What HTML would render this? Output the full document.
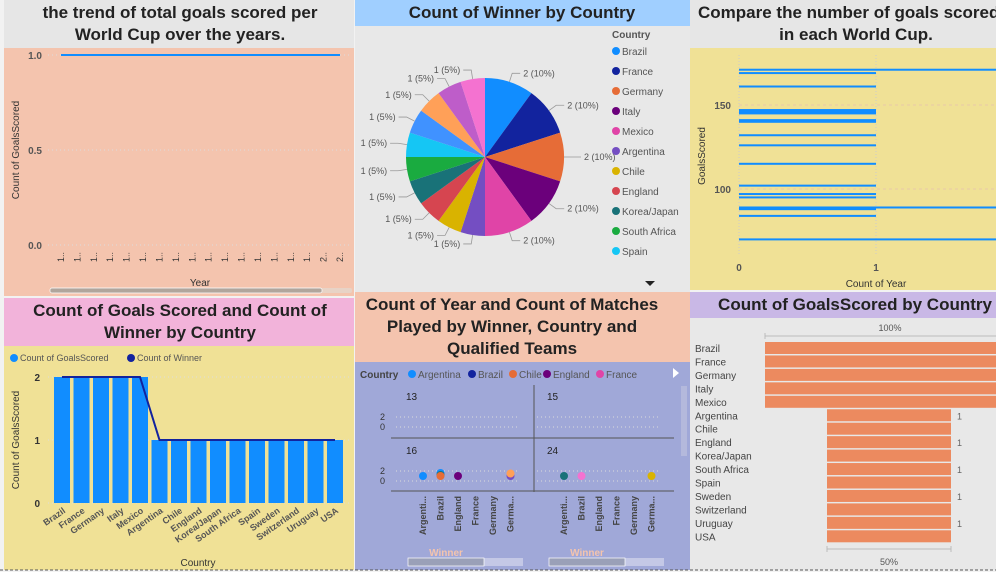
<!DOCTYPE html>
<html><head><meta charset="utf-8">
<style>
body{margin:0;width:996px;height:572px;overflow:hidden;background:#fff;font-family:"Liberation Sans",sans-serif}
svg{position:absolute;left:0;top:0}
text{font-family:"Liberation Sans",sans-serif}
.t{font-weight:bold;font-size:17px;fill:#222;text-anchor:middle}
.ax{font-size:10px;fill:#555}
</style></head><body>
<svg id="s" width="996" height="572">
<!-- backgrounds -->
<rect x="0" y="0" width="996" height="572" fill="#f2f2f2"/>
<rect x="4" y="0" width="350" height="48" fill="#e6e6e6"/>
<rect x="4" y="48" width="350" height="248" fill="#f4c4ae"/>
<rect x="355" y="0" width="335" height="26" fill="#a0cfff"/>
<rect x="355" y="26" width="335" height="266" fill="#e8e8e8"/>
<rect x="690" y="0" width="306" height="48" fill="#e6e6e6"/>
<rect x="690" y="48" width="306" height="242" fill="#f0e196"/>
<rect x="4" y="298" width="350" height="48" fill="#f2b3da"/>
<rect x="4" y="346" width="350" height="224" fill="#f0e196"/>
<rect x="355" y="292" width="335" height="70" fill="#f4c4ae"/>
<rect x="355" y="362" width="335" height="208" fill="#a0a8d8"/>
<rect x="690" y="292" width="306" height="26" fill="#c9b8e6"/>
<rect x="690" y="318" width="306" height="252" fill="#e8e8e8"/>
<line x1="0" y1="570" x2="996" y2="570" stroke="#555" stroke-dasharray="3,2"/>

<!-- titles -->
<text class="t" x="180" y="18">the trend of total goals scored per</text>
<text class="t" x="180" y="40">World Cup over the years.</text>
<text class="t" x="522" y="18">Count of Winner by Country</text>
<text class="t" x="698" y="18" style="text-anchor:start">Compare the number of goals scored</text>
<text class="t" x="856" y="40">in each World Cup.</text>
<text class="t" x="180" y="316">Count of Goals Scored and Count of</text>
<text class="t" x="180" y="338">Winner by Country</text>
<text class="t" x="512" y="310">Count of Year and Count of Matches</text>
<text class="t" x="512" y="332">Played by Winner, Country and</text>
<text class="t" x="512" y="354">Qualified Teams</text>
<text class="t" x="855" y="310">Count of GoalsScored by Country</text>
<g id="g"></g>
</svg>
<script>
// ---- data ----
const trendYears=['1..','1..','1..','1..','1..','1..','1..','1..','1..','1..','1..','1..','1..','1..','1..','1..','2..','2..'];
const trendValues=[1,1,1,1,1,1,1,1,1,1,1,1,1,1,1,1,1,1];
const trendTicks=[0,0.5,1];
const pieCountries=['Brazil','France','Germany','Italy','Mexico','Argentina','Chile','England','Korea/Japan','South Africa','Spain','Sweden','Switzerland','Uruguay','USA'];
const pieValues=[2,2,2,2,2,1,1,1,1,1,1,1,1,1,1];
const pieColors=['#118dff','#12239e','#e66c37','#6b007b','#e044a7','#744ec2','#d9b300','#d64550','#197278','#1aab40','#15c6f4','#4092ff','#ffa058','#be5dc9','#f472d0'];
const goalsScored=[171,169,161,147,146,145,141,140,132,126,115,102,97,95,89,88,84,70];
const goalsCount=[2,1,1,1,1,1,1,1,1,1,1,1,1,1,2,1,1,2];
const goalsTicks=[100,150];
const comboCountries=['Brazil','France','Germany','Italy','Mexico','Argentina','Chile','England','Korea/Japan','South Africa','Spain','Sweden','Switzerland','Uruguay','USA'];
const comboGoals=[2,2,2,2,2,1,1,1,1,1,1,1,1,1,1];
const comboWinner=[2,2,2,2,2,1,1,1,1,1,1,1,1,1,1];
const comboTicks=[0,1,2];
const multWinners=['Argenti...','Brazil','England','France','Germany','Germa...'];
const multPanels=['13','15','16','24'];
const multPoints=[[2,0,1,'#118dff'],[2,1,1.6,'#118dff'],[2,1,1.2,'#197278'],[2,1,1,'#e66c37'],[2,2,1,'#6b007b'],[2,5,1,'#744ec2'],[2,5,1.5,'#ffa058'],[3,0,1,'#197278'],[3,1,1,'#f472d0'],[3,5,1,'#d9b300']];
const funnelCountries=['Brazil','France','Germany','Italy','Mexico','Argentina','Chile','England','Korea/Japan','South Africa','Spain','Sweden','Switzerland','Uruguay','USA'];
const funnelValues=[2,2,2,2,2,1,1,1,1,1,1,1,1,1,1];
const funnelShowLabel=[0,0,0,0,0,1,0,1,0,1,0,1,0,1,0];

const NS='http://www.w3.org/2000/svg';
const G=document.getElementById('g');
function mk(tag,a,txt){const e=document.createElementNS(NS,tag);for(const k in a)e.setAttribute(k,a[k]);if(txt!==undefined)e.textContent=txt;G.appendChild(e);return e;}

// ---- trend line ----
const tY=v=>245-v*190, tX=i=>61+i*(279/(trendYears.length-1));
trendTicks.forEach(t=>{
 let e=mk('text',{x:42,y:tY(t)+4,'text-anchor':'end','font-size':10,'font-weight':'bold',fill:'#555'},t.toFixed(1));
 
 e=mk('line',{x1:48,x2:352,y1:tY(t),y2:tY(t),stroke:'#ddd','stroke-dasharray':'1,3'});
 
});
{let e=mk('polyline',{points:trendValues.map((v,i)=>tX(i)+','+tY(v)).join(' '),fill:'none',stroke:'#118dff','stroke-width':2});
}
trendYears.forEach((y,i)=>{let e=mk('text',{transform:`translate(${tX(i)+3},252) rotate(-90)`,'text-anchor':'end','font-size':9,fill:'#333'},y);
});
{let e=mk('text',{x:200,y:286,'text-anchor':'middle','font-size':10,fill:'#333'},'Year');
e=mk('text',{transform:'translate(19,150) rotate(-90)','text-anchor':'middle','font-size':10,fill:'#333'},'Count of GoalsScored');
e=mk('rect',{x:50,y:288,width:302,height:5,rx:2,fill:'#e8d3c6'});
e=mk('rect',{x:50,y:288,width:272,height:5,rx:2,fill:'#b0a59c',stroke:'#fff','stroke-width':0.7});}

// ---- pie ----
{const cx=485,cy=157,r=79,tot=pieValues.reduce((a,b)=>a+b,0);let a0=0;
pieValues.forEach((v,i)=>{const a1=a0+v/tot*2*Math.PI;
 const p=(a)=>[cx+r*Math.sin(a),cy-r*Math.cos(a)];const [x0,y0]=p(a0),[x1,y1]=p(a1);
 let e=mk('path',{d:`M${cx},${cy}L${x0},${y0}A${r},${r} 0 ${a1-a0>Math.PI?1:0} 1 ${x1},${y1}Z`,fill:pieColors[i]});
 
 const m=(a0+a1)/2,s=Math.sin(m),c=Math.cos(m);const ex=cx+(r+9)*s,ey=cy-(r+9)*c,hx=ex+(s>0?8:-8);
 e=mk('polyline',{points:`${cx+r*s},${cy-r*c} ${ex},${ey} ${hx},${ey}`,fill:'none',stroke:'#999','stroke-width':0.8});
 
 e=mk('text',{x:hx+(s>0?3:-3),y:ey+3,'text-anchor':s>0?'start':'end','font-size':9,fill:'#555'},`${v} (${Math.round(v/tot*100)}%)`);
 
 a0=a1;});
let e=mk('text',{x:612,y:38,'font-size':10,'font-weight':'bold',fill:'#555'},'Country');
pieCountries.slice(0,11).forEach((c,i)=>{let e=mk('circle',{cx:616,cy:51+i*20,r:4,fill:pieColors[i]});
 e=mk('text',{x:622,y:55+i*20,'font-size':10,fill:'#555'},c);});
e=mk('path',{d:'M645,281L655,281L650,286Z',fill:'#222'});}

// ---- goals per world cup ----
{const gy=v=>105-(v-150)*1.68,gx=c=>739+c*137;
[gx(0),gx(1)].forEach(x=>{let e=mk('line',{x1:x,x2:x,y1:55,y2:255,stroke:'#ccc','stroke-dasharray':'1,2'});});
goalsTicks.forEach(t=>{let e=mk('text',{x:731,y:gy(t)+4,'text-anchor':'end','font-size':10,'font-weight':'bold',fill:'#555'},t);
 e=mk('line',{x1:739,x2:996,y1:gy(t),y2:gy(t),stroke:'#e8c9a8','stroke-dasharray':'3,3'});});
goalsScored.forEach((v,i)=>{let e=mk('rect',{x:gx(0),y:gy(v)-1,width:gx(goalsCount[i])-gx(0),height:2,fill:'#118dff'});});
['0','1'].forEach((t,i)=>{let e=mk('text',{x:gx(i),y:271,'text-anchor':'middle','font-size':10,'font-weight':'bold',fill:'#555'},t);});
let e=mk('text',{x:876,y:287,'text-anchor':'middle','font-size':10,fill:'#333'},'Count of Year');
e=mk('text',{transform:'translate(705,156) rotate(-90)','text-anchor':'middle','font-size':10,fill:'#333'},'GoalsScored');}

// ---- combo ----
{const cy=v=>503-v*63,cx=i=>62+i*19.5;
comboTicks.forEach(t=>{let e=mk('text',{x:40,y:cy(t)+4,'text-anchor':'end','font-size':10,'font-weight':'bold',fill:'#333'},t);
 e=mk('line',{x1:48,x2:350,y1:cy(t),y2:cy(t),stroke:'#ddd','stroke-dasharray':'1,3'});});
comboGoals.forEach((v,i)=>{let e=mk('rect',{x:cx(i)-8,y:cy(v),width:16,height:cy(0)-cy(v),fill:'#118dff'});
 e=mk('text',{transform:`translate(${cx(i)+4},512) rotate(-35)`,'text-anchor':'end','font-size':9,'font-weight':'bold',fill:'#555'},comboCountries[i]);});
let e=mk('polyline',{points:comboWinner.map((v,i)=>cx(i)+','+cy(v)).join(' '),fill:'none',stroke:'#12239e','stroke-width':2});
e=mk('circle',{cx:14,cy:358,r:4,fill:'#118dff'});
e=mk('text',{x:20,y:361,'font-size':9,fill:'#555'},'Count of GoalsScored');
e=mk('circle',{cx:131,cy:358,r:4,fill:'#12239e'});
e=mk('text',{x:137,y:361,'font-size':9,fill:'#555'},'Count of Winner');
e=mk('text',{x:198,y:566,'text-anchor':'middle','font-size':10,fill:'#333'},'Country');
e=mk('text',{transform:'translate(19,440) rotate(-90)','text-anchor':'middle','font-size':10,fill:'#333'},'Count of GoalsScored');}

// ---- small multiples ----
{let e=mk('text',{x:360,y:378,'font-size':10,'font-weight':'bold',fill:'#444'},'Country');
const lg=[['Argentina','#118dff',412],['Brazil','#12239e',472],['Chile','#e66c37',513],['England','#6b007b',547],['France','#e044a7',600]];
lg.forEach(l=>{let e=mk('circle',{cx:l[2],cy:374,r:4,fill:l[1]});
 e=mk('text',{x:l[2]+6,y:378,'font-size':10,fill:'#555'},l[0]);});
e=mk('path',{d:'M673,368L679,373L673,378Z',fill:'#fff'});
e=mk('rect',{x:681,y:386,width:6,height:70,fill:'#b4b9dc'});
mk('line',{x1:534,x2:534,y1:385,y2:492,stroke:'#555'});mk('line',{x1:391,x2:674,y1:438,y2:438,stroke:'#555'});mk('line',{x1:391,x2:674,y1:491,y2:491,stroke:'#555'});
const ox=[406,547],oy=[417,471],step=17.5;
multPanels.forEach((p,k)=>{const px=ox[k%2],py=oy[Math.floor(k/2)];
 let e=mk('text',{x:px,y:py-17,'font-size':10,fill:'#222'},p);
 [2,0].forEach((t,j)=>{mk('line',{x1:px-10,x2:px+112,y1:py+j*10,y2:py+j*10,stroke:'#ddd','stroke-dasharray':'1,3'});});});
[417,471].forEach(py=>{['2','0'].forEach((t,j)=>{let e=mk('text',{x:385,y:py+3+j*10,'text-anchor':'end','font-size':9,fill:'#333'},t);});});
multPoints.forEach(p=>{const px=ox[p[0]%2]+17+p[1]*step,py=oy[Math.floor(p[0]/2)]+10-p[2]*5;
 let e=mk('circle',{cx:px,cy:py,r:4,fill:p[3]});});
[0,1].forEach(k=>{multWinners.forEach((w,i)=>{let e=mk('text',{transform:`translate(${ox[k]+20+i*step},496) rotate(-90)`,'text-anchor':'end','font-size':9,'font-weight':'bold',fill:'#444'},w);});
 let e=mk('text',{x:ox[k]+40,y:556,'text-anchor':'middle','font-size':10,'font-weight':'bold',fill:'#f4c4ae'},'Winner');
 e=mk('rect',{x:ox[k]+2,y:558,width:115,height:8,fill:'#c4c8e6'});
 e=mk('rect',{x:ox[k]+2,y:558,width:76,height:8,fill:'#9aa0b8',stroke:'#fff','stroke-width':0.7});});}

// ---- funnel ----
{const mid=889,fw=v=>v*124,fy=i=>342+i*13.45;
let e=mk('text',{x:890,y:331,'text-anchor':'middle','font-size':9,fill:'#555'},'100%');
mk('line',{x1:765,x2:996,y1:336,y2:336,stroke:'#bbb'});mk('line',{x1:765,x2:765,y1:333,y2:339,stroke:'#bbb'});
funnelValues.forEach((v,i)=>{let e=mk('rect',{x:mid-fw(v)/2,y:fy(i),width:fw(v),height:12,fill:'#ec8a5f'});
 e=mk('text',{x:695,y:fy(i)+10,'font-size':10,fill:'#444'},funnelCountries[i]);
 if(funnelShowLabel[i]){e=mk('text',{x:mid+fw(v)/2+6,y:fy(i)+10,'font-size':9,fill:'#666'},v>1?v:'1');}});
mk('line',{x1:827,x2:951,y1:549,y2:549,stroke:'#bbb'});mk('line',{x1:827,x2:827,y1:546,y2:552,stroke:'#bbb'});mk('line',{x1:951,x2:951,y1:546,y2:552,stroke:'#bbb'});
e=mk('text',{x:889,y:565,'text-anchor':'middle','font-size':9,fill:'#555'},'50%');}
</script>
</body></html>
